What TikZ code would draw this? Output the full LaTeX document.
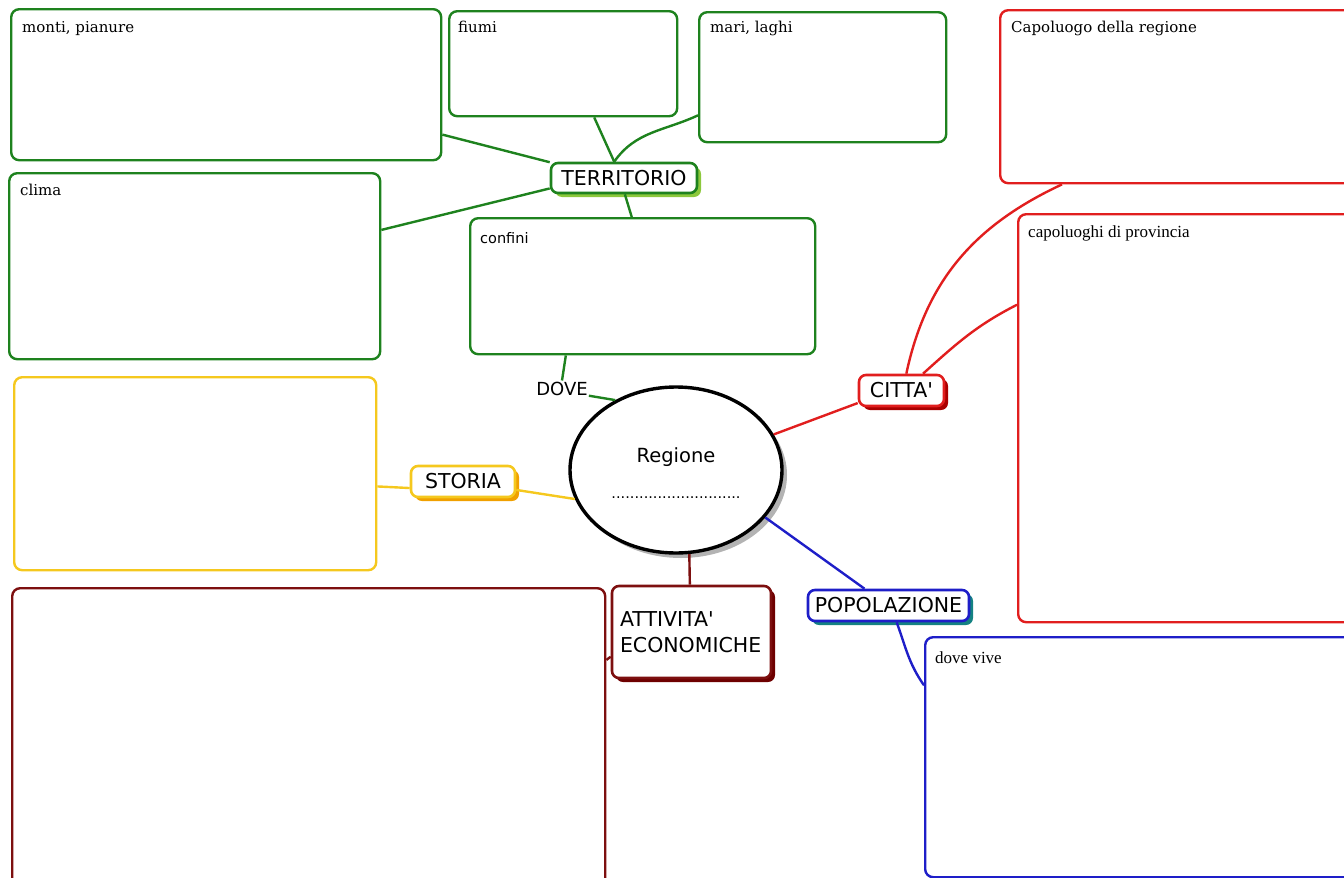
\documentclass[tikz,border=0pt]{standalone}
\usepackage{fontspec}
\newfontfamily\bookfont{DejaVu Serif}
\newfontfamily\timesfont{Liberation Serif}
\newfontfamily\verdfont[Ligatures=TeXOff]{DejaVu Sans}
\usetikzlibrary{shapes.geometric,shadows}
\definecolor{grn}{RGB}{30,130,30}
\definecolor{terrshadow}{RGB}{140,200,60}
\definecolor{rd}{RGB}{225,30,30}
\definecolor{cityshadow}{RGB}{170,0,0}
\definecolor{gold}{RGB}{245,200,30}
\definecolor{goldshadow}{RGB}{240,160,0}
\definecolor{dred}{RGB}{125,15,15}
\definecolor{attshadow}{RGB}{110,0,0}
\definecolor{blu}{RGB}{30,30,200}
\definecolor{popshadow}{RGB}{20,130,130}
\begin{document}
\begin{tikzpicture}[
		x=1pt, y=-1pt,
		tbox/.style={draw=#1, rounded corners=8pt, line width=2.4pt, anchor=north west, inner sep=0pt},
		btext/.style={anchor=base west, inner sep=0pt, font=\bookfont\fontsize{15}{18}\selectfont},
		ttext/.style={anchor=base west, inner sep=0pt, font=\timesfont\fontsize{17}{20}\selectfont},
		concept/.style={draw=#1, fill=white, rounded corners=7pt, line width=2.6pt, inner sep=0pt, font=\verdfont\fontsize{20.5}{26}\selectfont},
		cshadow/.style={drop shadow={shadow xshift=4pt, shadow yshift=-4pt, fill=#1, opacity=1}},
		link/.style={line width=2.4pt}
	]
	\useasboundingbox (0,0) rectangle (1344,878);
	\clip (0,0) rectangle (1344,878);

	\node[tbox=grn, minimum width=430pt, minimum height=151pt] (monti) at (10,8) {};
	\node[tbox=grn, minimum width=228pt, minimum height=105pt] (fiumi) at (448,10) {};
	\node[tbox=grn, minimum width=247pt, minimum height=130pt] (mari) at (698,11) {};
	\node[tbox=grn, minimum width=371pt, minimum height=186pt] (clima) at (8,172) {};
	\node[tbox=grn, minimum width=345pt, minimum height=136pt] (confini) at (469,217) {};
	\node[tbox=rd, minimum width=365pt, minimum height=173pt] (capo) at (999,9) {};
	\node[tbox=rd, minimum width=347pt, minimum height=408pt] (prov) at (1017,213) {};
	\node[tbox=gold, minimum width=362pt, minimum height=193pt] (stbox) at (13,376) {};
	\node[tbox=dred, minimum width=593pt, minimum height=303pt] (attbox) at (11,587) {};
	\node[tbox=blu, minimum width=440pt, minimum height=240pt] (vive) at (924,636) {};

	\node[btext] (montiT) at ([shift={(12,24)}]monti.north west) {monti, pianure};
	\node[btext] (fiumiT) at ([shift={(10,22)}]fiumi.north west) {fiumi};
	\node[btext] (mariT) at ([shift={(12,21)}]mari.north west) {mari, laghi};
	\node[btext] (climaT) at ([shift={(12,23)}]clima.north west) {clima};
	\node[btext, font=\verdfont\fontsize{14.5}{17}\selectfont] (confiniT) at ([shift={(11,26)}]confini.north west) {confini};
	\node[btext] (capoT) at ([shift={(12,23)}]capo.north west) {Capoluogo della regione};
	\node[ttext] (provT) at ([shift={(11,24)}]prov.north west) {capoluoghi di provincia};
	\node[ttext] (viveT) at ([shift={(11,27)}]vive.north west) {dove vive};

	\node[ellipse, draw, line width=3.4pt, fill=white, minimum width=212pt, minimum height=166pt,
		drop shadow={shadow xshift=5pt, shadow yshift=-5pt, fill=black!50, opacity=0.6}] (reg) at (676,470) {};
	\node[anchor=base, font=\verdfont\fontsize{19.5}{24}\selectfont] (regT) at ([yshift=8pt]reg.center) {Regione};
	\node[anchor=base, font=\verdfont\fontsize{14.5}{18}\selectfont] (regD) at ([yshift=-28pt]reg.center) {............................};

	\node[concept=grn, cshadow=terrshadow, minimum width=146pt, minimum height=30pt] (terr) at (624,178) {TERRITORIO};
	\node[concept=rd, cshadow=cityshadow, minimum width=85pt, minimum height=31pt] (citta) at (901.5,390.5) {CITTA'};
	\node[concept=blu, cshadow=popshadow, minimum width=161pt, minimum height=31pt] (pop) at (888.5,605.5) {POPOLAZIONE};
	\node[concept=gold, cshadow=goldshadow, minimum width=104pt, minimum height=31pt] (storia) at (463,481.5) {STORIA};
	\node[concept=dred, cshadow=attshadow, minimum height=92pt, text width=143pt, inner xsep=8pt, align=left] (att) at (691.5,632) {ATTIVITA'\\ECONOMICHE};
	\node[font=\verdfont\fontsize{18}{22}\selectfont, inner sep=1pt] (dove) at (562,388.5) {DOVE};

	\draw[link, grn] (monti.-13.5) -- (terr.168);
	\draw[link, grn] (fiumi.-60) -- (terr.121);
	\draw[link, grn] (terr.121) to[out=55, in=205] (mari.197.5);
	\draw[link, grn] (clima.11.6) -- (terr.188);
	\draw[link, grn] (terr.-87) -- (confini.99.6);
	\draw[link, grn] (confini.-138) -- (dove.north);
	\draw[link, grn] (dove.-15) -- (reg.131);
	\draw[link, rd] (reg.20) -- (citta.196);
	\draw[link, rd] (citta.74) to[out=78, in=205] (capo.-144);
	\draw[link, rd] (citta.38.5) to[out=42, in=207] (prov.147.6);
	\draw[link, gold] (reg.-164) -- (storia.-9);
	\draw[link, gold] (stbox.-4) -- (storia.187);
	\draw[link, dred] (reg.-81) -- (att.92);
	\draw[link, dred] (attbox.15) -- (att.197);
	\draw[link, blu] (reg.-28) -- (pop.145);
	\draw[link, blu] (pop.-64) to[out=-70, in=125] (vive.162);
\end{tikzpicture}
\end{document}
